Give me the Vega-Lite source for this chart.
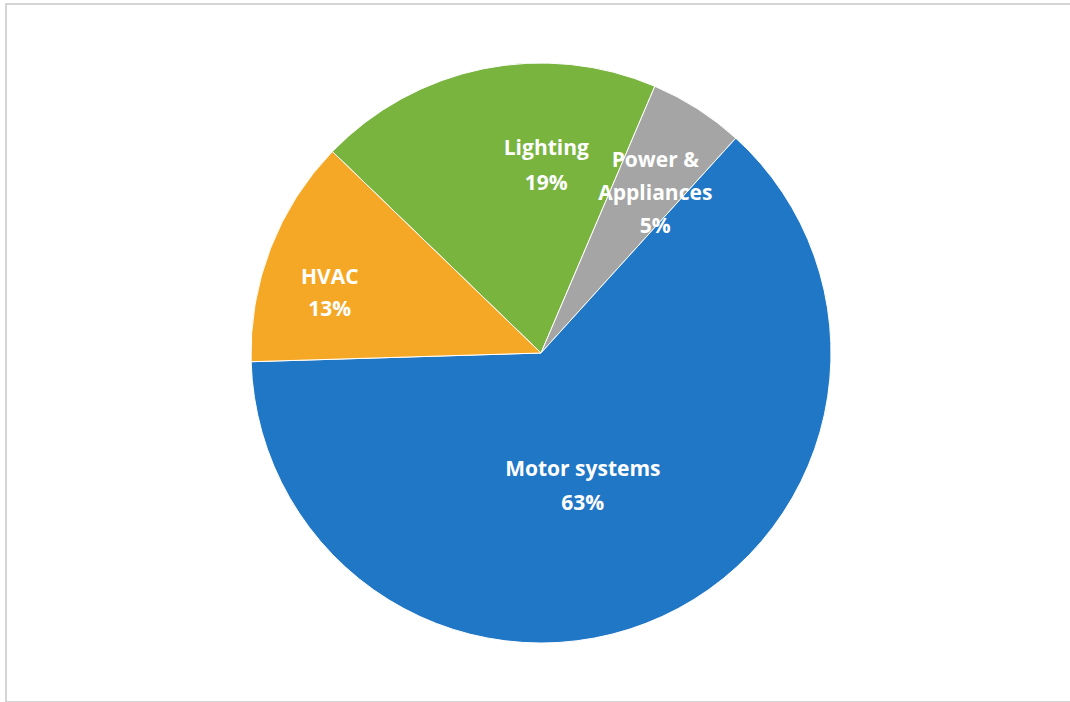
{
  "$schema": "https://vega.github.io/schema/vega-lite/v6.json",
  "width": 1070,
  "height": 698,
  "autosize": "none",
  "padding": {"left": 6, "top": 4, "right": 0, "bottom": 0},
  "background": "white",
  "view": {"stroke": "#c8c8c8", "strokeWidth": 1.5},
  "data": {
    "values": [
      {"category": "Lighting", "share": 19.2, "rank": 1, "lines": ["Lighting", "19%"]},
      {"category": "Power & Appliances", "share": 5.3, "rank": 2, "lines": ["Power &", "Appliances", "5%"]},
      {"category": "Motor systems", "share": 62.8, "rank": 3, "lines": ["Motor systems", "63%"]},
      {"category": "HVAC", "share": 12.7, "rank": 4, "lines": ["HVAC", "13%"]}
    ]
  },
  "encoding": {
    "theta": {"field": "share", "type": "quantitative", "stack": true, "scale": {"range": [-0.8029, 5.4803]}},
    "order": {"field": "rank", "type": "quantitative"}
  },
  "layer": [
    {
      "mark": {"type": "arc", "outerRadius": 290, "stroke": "white", "strokeWidth": 1},
      "encoding": {
        "color": {
          "field": "category",
          "type": "nominal",
          "legend": null,
          "scale": {
            "domain": ["Lighting", "Power & Appliances", "Motor systems", "HVAC"],
            "range": ["#78b43e", "#a5a5a5", "#2077c6", "#f5a825"]
          }
        }
      }
    },
    {
      "mark": {"type": "text", "radius": 190, "dx": 43, "dy": -18, "font": "Open Sans", "fontWeight": "bold", "fontSize": 21, "lineHeight": 35, "fill": "white", "align": "center", "baseline": "middle"},
      "encoding": {"text": {"condition": {"test": "datum.category === 'Lighting'", "field": "lines", "type": "nominal"}, "value": ""}}
    },
    {
      "mark": {"type": "text", "radius": 197, "dx": 8, "dy": -26, "font": "Open Sans", "fontWeight": "bold", "fontSize": 21, "lineHeight": 33, "fill": "white", "align": "center", "baseline": "middle"},
      "encoding": {"text": {"condition": {"test": "datum.category === 'Power & Appliances'", "field": "lines", "type": "nominal"}, "value": ""}}
    },
    {
      "mark": {"type": "text", "radius": 138, "dx": -16, "dy": -8, "font": "Open Sans", "fontWeight": "bold", "fontSize": 21, "lineHeight": 34, "fill": "white", "align": "center", "baseline": "middle"},
      "encoding": {"text": {"condition": {"test": "datum.category === 'Motor systems'", "field": "lines", "type": "nominal"}, "value": ""}}
    },
    {
      "mark": {"type": "text", "radius": 219, "dx": -7, "dy": 4, "font": "Open Sans", "fontWeight": "bold", "fontSize": 21, "lineHeight": 32, "fill": "white", "align": "center", "baseline": "middle"},
      "encoding": {"text": {"condition": {"test": "datum.category === 'HVAC'", "field": "lines", "type": "nominal"}, "value": ""}}
    }
  ]
}
